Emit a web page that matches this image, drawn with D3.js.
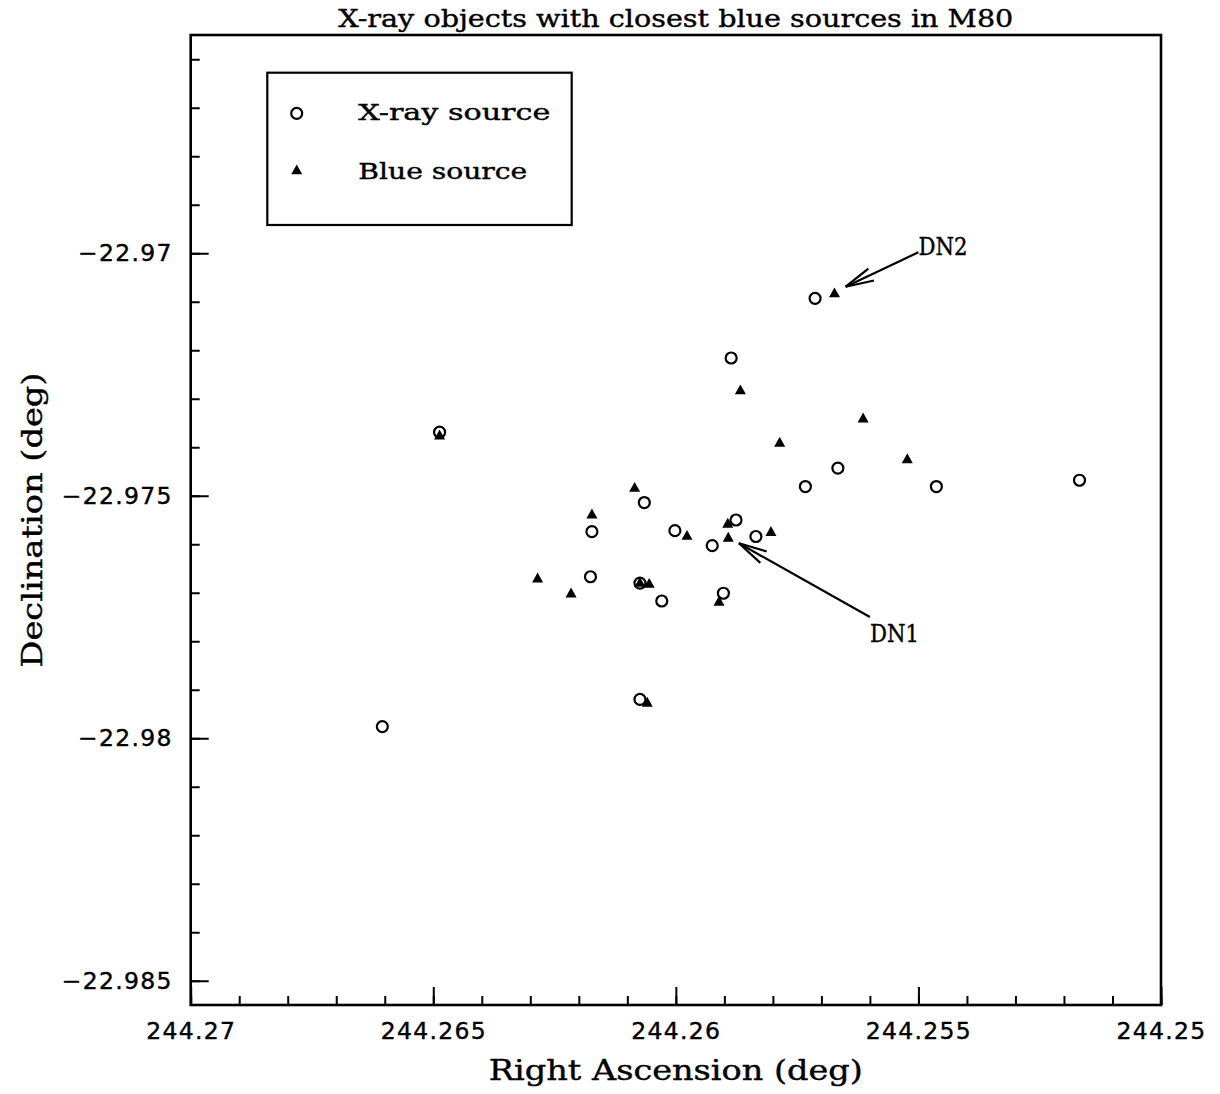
<!DOCTYPE html>
<html>
<head>
<meta charset="utf-8">
<script src="https://cdn.jsdelivr.net/npm/d3@7"></script>
<style>
  html, body { margin: 0; padding: 0; background: #fff; }
  svg { display: block; }
</style>
</head>
<body>
<svg id="chart" width="1220" height="1094"></svg>
<script>
// ---------------- data ----------------
const raTicks = [244.27, 244.265, 244.26, 244.255, 244.25];
const raTickLabels = ["244.27", "244.265", "244.26", "244.255", "244.25"];
const decTicks = [-22.97, -22.975, -22.98, -22.985];
const decTickLabels = ["\u221222.97", "\u221222.975", "\u221222.98", "\u221222.985"];

// X-ray sources (open circles)
const xrayRA  = [244.26487, 244.26605, 244.26173, 244.26176, 244.26065, 244.26074, 244.26029,
                 244.26002, 244.25925, 244.25902, 244.25876, 244.25886, 244.25835, 244.25713,
                 244.25733, 244.25666, 244.25463, 244.25168, 244.26074];
const xrayDec = [-22.97369, -22.97976, -22.97574, -22.97667, -22.97514, -22.97680, -22.97717,
                 -22.97572, -22.97603, -22.97701, -22.97550, -22.97216, -22.97584, -22.97093,
                 -22.97481, -22.97443, -22.97481, -22.97468, -22.97920];

// closest blue sources (filled triangles)
const blueRA  = [244.26487, 244.26285, 244.26216, 244.26173, 244.26085, 244.26074, 244.26055,
                 244.26059, 244.25977, 244.25911, 244.25893, 244.25892, 244.25867, 244.25804,
                 244.25786, 244.25673, 244.25614, 244.25523];
const blueDec = [-22.97377, -22.97672, -22.97703, -22.97540, -22.97485, -22.97681, -22.97683,
                 -22.97928, -22.97584, -22.97720, -22.97559, -22.97588, -22.97284, -22.97576,
                 -22.97392, -22.97084, -22.97342, -22.97426];

// annotations: label, label position, arrow tail, arrow tip (data units)
const annNames   = ["DN1", "DN2"];
const annLabelRA = [244.256, 244.255];
const annLabelDec= [-22.97802, -22.97004];
const annTailRA  = [244.256, 244.255];
const annTailDec = [-22.9775, -22.96998];
const annTipRA   = [244.2587, 244.2565];
const annTipDec  = [-22.97598, -22.97069];

const titleText = "X-ray objects with closest blue sources in M80";
const xLabel = "Right Ascension (deg)";
const yLabel = "Declination (deg)";
const legendLabels = ["X-ray source", "Blue source"];

// ---------------- drawing ----------------
const svg = d3.select("#chart");
const L = 190.7, R = 1161, T = 35, B = 1005;

const x = d3.scaleLinear().domain([244.27, 244.25]).range([L, R]);
const y = d3.scaleLinear().domain([-22.9655, -22.9855]).range([T, B]);

const tickFont = "'DejaVu Sans', sans-serif";
const serif = "'DejaVu Serif', serif";

// minor ticks
const raMinor = d3.range(0, 21).map(i => +(244.27 - i * 0.001).toFixed(3));
const decMinor = d3.range(0, 20).map(i => +(-22.966 - i * 0.001).toFixed(3));

svg.append("g").attr("transform", `translate(0,${B})`)
  .call(d3.axisBottom(x).tickValues(raMinor).tickSize(-9).tickFormat(""))
  .call(g => g.select(".domain").remove())
  .call(g => g.selectAll("line").attr("stroke", "#000").attr("stroke-width", 2));

svg.append("g").attr("transform", `translate(${L},0)`)
  .call(d3.axisLeft(y).tickValues(decMinor).tickSize(-9).tickFormat(""))
  .call(g => g.select(".domain").remove())
  .call(g => g.selectAll("line").attr("stroke", "#000").attr("stroke-width", 2));

// major ticks + labels
svg.append("g").attr("transform", `translate(0,${B})`)
  .call(d3.axisBottom(x).tickValues(raTicks).tickSize(-18).tickPadding(17)
        .tickFormat((d, i) => raTickLabels[i]))
  .call(g => g.select(".domain").remove())
  .call(g => g.selectAll("line").attr("stroke", "#000").attr("stroke-width", 2))
  .call(g => g.selectAll("text").attr("fill", "#000")
        .attr("stroke", "#000").attr("stroke-width", 0.4)
        .style("font-family", tickFont).style("font-size", "23.5px")
        .style("letter-spacing", "1.3px"));

svg.append("g").attr("transform", `translate(${L},0)`)
  .call(d3.axisLeft(y).tickValues(decTicks).tickSize(-18).tickPadding(18)
        .tickFormat((d, i) => decTickLabels[i]))
  .call(g => g.select(".domain").remove())
  .call(g => g.selectAll("line").attr("stroke", "#000").attr("stroke-width", 2))
  .call(g => g.selectAll("text").attr("fill", "#000")
        .attr("stroke", "#000").attr("stroke-width", 0.4)
        .style("font-family", tickFont).style("font-size", "23.5px")
        .style("letter-spacing", "1.3px"));

// frame
svg.append("rect").attr("x", L).attr("y", T).attr("width", R - L).attr("height", B - T)
  .attr("fill", "none").attr("stroke", "#000").attr("stroke-width", 2.6);

// title and axis labels
svg.append("text").attr("x", (L + R) / 2).attr("y", 27).attr("text-anchor", "middle")
  .attr("textLength", 675).attr("lengthAdjust", "spacingAndGlyphs")
  .attr("stroke", "#000").attr("stroke-width", 0.4)
  .style("font-family", serif).style("font-size", "25px").text(titleText);

svg.append("text").attr("x", (L + R) / 2).attr("y", 1080).attr("text-anchor", "middle")
  .attr("textLength", 374).attr("lengthAdjust", "spacingAndGlyphs")
  .attr("stroke", "#000").attr("stroke-width", 0.4)
  .style("font-family", serif).style("font-size", "28px").text(xLabel);

svg.append("text").attr("transform", `translate(42,${(T + B) / 2}) rotate(-90)`)
  .attr("text-anchor", "middle")
  .attr("textLength", 295).attr("lengthAdjust", "spacingAndGlyphs")
  .attr("stroke", "#000").attr("stroke-width", 0.4)
  .style("font-family", serif).style("font-size", "28px").text(yLabel);

// markers
const triPath = (cx, cy, s) => {
  const h = s * 0.9;
  return `M${cx},${cy - h * 2 / 3}L${cx + s / 2},${cy + h / 3}L${cx - s / 2},${cy + h / 3}Z`;
};

const blue = blueRA.map((r, i) => ({ ra: r, dec: blueDec[i] }));
const xray = xrayRA.map((r, i) => ({ ra: r, dec: xrayDec[i] }));

svg.append("g").selectAll("path").data(blue).join("path")
  .attr("d", d => triPath(x(d.ra), y(d.dec), 11))
  .attr("fill", "#000");

svg.append("g").selectAll("circle").data(xray).join("circle")
  .attr("cx", d => x(d.ra)).attr("cy", d => y(d.dec)).attr("r", 5.5)
  .attr("fill", "none").attr("stroke", "#000").attr("stroke-width", 2.2);

// annotations
annNames.forEach((name, i) => {
  const x0 = x(annTailRA[i]), y0 = y(annTailDec[i]);
  const x1 = x(annTipRA[i]), y1 = y(annTipDec[i]);
  const g = svg.append("g").attr("stroke", "#000").attr("stroke-width", 2.2).attr("fill", "none");
  g.append("line").attr("x1", x0).attr("y1", y0).attr("x2", x1).attr("y2", y1);
  const ang = Math.atan2(y0 - y1, x0 - x1);
  const len = 29, spread = 13 * Math.PI / 180;
  [ang - spread, ang + spread].forEach(a => {
    g.append("line").attr("x1", x1).attr("y1", y1)
      .attr("x2", x1 + len * Math.cos(a)).attr("y2", y1 + len * Math.sin(a));
  });
  svg.append("text").attr("x", x(annLabelRA[i])).attr("y", y(annLabelDec[i]))
    .attr("textLength", 49).attr("lengthAdjust", "spacingAndGlyphs")
    .attr("stroke", "#000").attr("stroke-width", 0.4)
    .style("font-family", serif).style("font-size", "23.5px").text(name);
});

// legend
const lg = svg.append("g");
lg.append("rect").attr("x", 267.3).attr("y", 72.7).attr("width", 304.4).attr("height", 152.3)
  .attr("fill", "none").attr("stroke", "#000").attr("stroke-width", 2.2);
lg.append("circle").attr("cx", 296.7).attr("cy", 113.3).attr("r", 5.5)
  .attr("fill", "none").attr("stroke", "#000").attr("stroke-width", 2.2);
lg.append("path").attr("d", triPath(296.7, 171, 11)).attr("fill", "#000");
lg.append("text").attr("x", 358.3).attr("y", 120).attr("textLength", 192)
  .attr("lengthAdjust", "spacingAndGlyphs")
  .attr("stroke", "#000").attr("stroke-width", 0.4)
  .style("font-family", serif).style("font-size", "21.5px").text(legendLabels[0]);
lg.append("text").attr("x", 358.3).attr("y", 179).attr("textLength", 169)
  .attr("lengthAdjust", "spacingAndGlyphs")
  .attr("stroke", "#000").attr("stroke-width", 0.4)
  .style("font-family", serif).style("font-size", "21.5px").text(legendLabels[1]);
</script>
</body>
</html>
